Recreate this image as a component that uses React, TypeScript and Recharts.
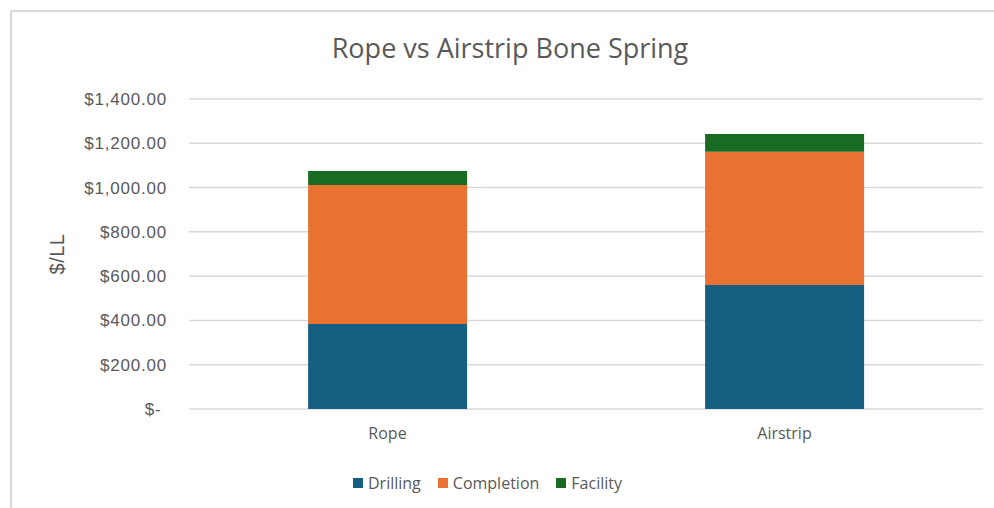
import { BarChart, Bar, XAxis, YAxis, CartesianGrid, Legend } from 'recharts'

const categories = ['Rope', 'Airstrip']
const drilling = [384, 560]
const completion = [628, 602]
const facility = [63, 80]
const yTicks = [0, 200, 400, 600, 800, 1000, 1200, 1400]

const series = [
  { key: 'Drilling', color: '#156082' },
  { key: 'Completion', color: '#E97132' },
  { key: 'Facility', color: '#196B24' },
]

const data = categories.map((name, i) => ({
  name,
  Drilling: drilling[i],
  Completion: completion[i],
  Facility: facility[i],
}))

const formatDollar = (v: number) =>
  v === 0
    ? '$-\u00a0'
    : '$' + v.toLocaleString('en-US', { minimumFractionDigits: 2, maximumFractionDigits: 2 })

const LegendContent = () => (
  <div
    style={{
      display: 'flex',
      justifyContent: 'center',
      alignItems: 'center',
      height: 24,
      gap: 17,
      fontFamily: '"Open Sans", sans-serif',
      fontSize: 16,
      color: '#595959',
    }}
  >
    {series.map((s) => (
      <div key={s.key} style={{ display: 'flex', alignItems: 'center', gap: 5 }}>
        <div style={{ width: 10, height: 10, backgroundColor: s.color }} />
        <span>{s.key}</span>
      </div>
    ))}
  </div>
)

export default function App() {
  return (
    <div
      style={{
        position: 'absolute',
        left: 0,
        top: 0,
        width: 994,
        height: 508,
        overflow: 'hidden',
        background: '#fff',
      }}
    >
      {/* chart frame, only top/left edges visible */}
      <div
        style={{
          position: 'absolute',
          left: 10,
          top: 10,
          width: 1100,
          height: 600,
          borderLeft: '2px solid #d9d9d9',
          borderTop: '2px solid #d9d9d9',
        }}
      />
      <div
        style={{
          position: 'absolute',
          left: 0,
          width: 1020,
          top: 30,
          textAlign: 'center',
          fontFamily: '"Open Sans", sans-serif',
          fontSize: 27,
          color: '#595959',
          lineHeight: '36px',
        }}
      >
        Rope vs Airstrip Bone Spring
      </div>
      <BarChart
        width={994}
        height={508}
        data={data}
        margin={{ top: 99, right: 11, bottom: 35, left: 40 }}
        barCategoryGap="30%"
        style={{ position: 'absolute', left: 0, top: 0 }}
      >
        <CartesianGrid vertical={false} stroke="#d9d9d9" strokeWidth={1.5} />
        <XAxis
          dataKey="name"
          axisLine={false}
          tickLine={false}
          tickSize={0}
          tickMargin={19}
          height={40}
          tick={{ fill: '#595959', fontSize: 16, fontFamily: '"Open Sans", sans-serif' }}
        />
        <YAxis
          domain={[0, 1400]}
          ticks={yTicks}
          width={149}
          axisLine={false}
          tickLine={false}
          tickSize={0}
          tickMargin={22}
          tickFormatter={formatDollar}
          tick={{ fill: '#595959', fontSize: 17, fontFamily: '"Liberation Sans", Arial, sans-serif', letterSpacing: 0.8 }}
          label={{
            value: '$/LL',
            angle: -90,
            position: 'insideLeft',
            offset: 17,
            style: {
              textAnchor: 'middle',
              fill: '#595959',
              fontSize: 20,
              fontFamily: '"Liberation Sans", Arial, sans-serif',
              letterSpacing: 0.5,
            },
          }}
        />
        <Legend
          verticalAlign="bottom"
          content={<LegendContent />}
          wrapperStyle={{ top: 471, bottom: 'auto', left: 0, width: 975 }}
        />
        {series.map((s) => (
          <Bar key={s.key} dataKey={s.key} stackId="cost" fill={s.color} isAnimationActive={false} />
        ))}
      </BarChart>
    </div>
  )
}
